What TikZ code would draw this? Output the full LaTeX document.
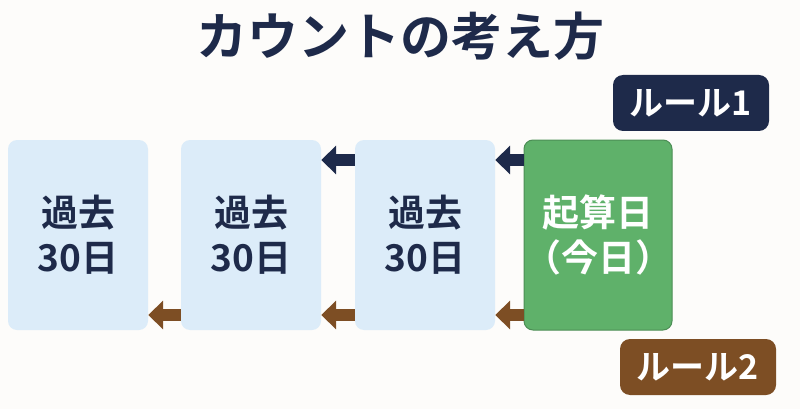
\documentclass[tikz,border=0pt]{standalone}
\usepackage{fontspec}
\setmainfont{Noto Sans CJK JP Bold}
\usetikzlibrary{arrows.meta}
\definecolor{navy}{HTML}{1E2A4A}
\definecolor{brn}{HTML}{7D4E24}
\definecolor{lb}{HTML}{DCECF9}
\definecolor{grn}{HTML}{5FB16A}
\definecolor{bg}{HTML}{FDFCFA}
\tikzset{
 past/.style={fill=lb,rounded corners=9pt,minimum width=140pt,minimum height=190pt,text=navy,font=\fontsize{37}{45}\selectfont,align=center,inner sep=0pt},
 today/.style={past,fill=grn,draw=grn!80!black,line width=1pt,text=white},
 rule/.style={rounded corners=10pt,minimum width=156pt,minimum height=56pt,text=white,font=\fontsize{34}{36}\selectfont,inner sep=0pt},
 arr/.style={line width=12pt,-{Triangle[width=28pt,length=15pt]}},
}
\begin{document}
\begin{tikzpicture}[x=1pt,y=-1pt]
\fill[bg] (0,0) rectangle (800,409);
\useasboundingbox (0,0) rectangle (800,409);
\node[text=navy,font=\fontsize{51}{54}\selectfont] (title) at (400,36) {カウントの考え方};
\node[past] (b1) at (78,235) {過去\\30日};
\node[past] (b2) at (251,235) {過去\\30日};
\node[past] (b3) at (425,235) {過去\\30日};
\node[today] (b4) at (598,235) {起算日\\（今日）};
\node[rule,fill=navy] (r1) at (691,103) {ルール1};
\node[rule,fill=brn] (r2) at (698,367) {ルール2};
\draw[arr,navy] (b4.west|-0,160) -- (b3.east|-0,160);
\draw[arr,navy] (b3.west|-0,160) -- (b2.east|-0,160);
\draw[arr,brn] (b4.west|-0,315) -- (b3.east|-0,315);
\draw[arr,brn] (b3.west|-0,315) -- (b2.east|-0,315);
\draw[arr,brn] (b2.west|-0,315) -- (b1.east|-0,315);
\end{tikzpicture}
\end{document}
